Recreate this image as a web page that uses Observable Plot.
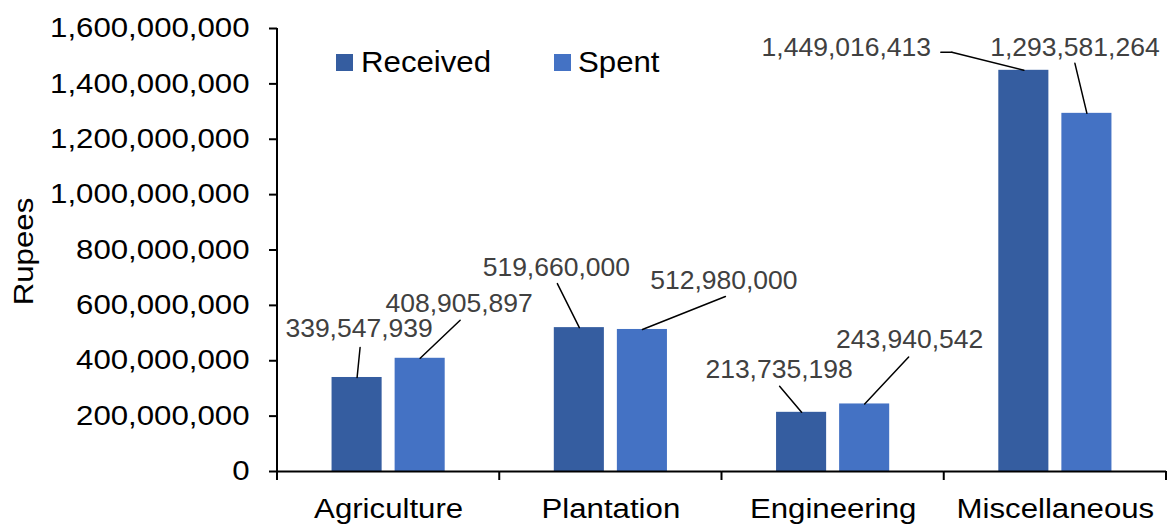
<!DOCTYPE html>
<html><head><meta charset="utf-8">
<script src="https://cdn.jsdelivr.net/npm/d3@7"></script>
<script src="https://cdn.jsdelivr.net/npm/@observablehq/plot@0.6"></script>
<style>
html,body{margin:0;padding:0;background:#fff;}
#chart{position:relative;width:1168px;height:527px;}
svg{font-family:"Liberation Sans",Arial,sans-serif;}
</style></head><body><div id="chart"></div>
<script>
// ---- data ----
const categories = ["Agriculture", "Plantation", "Engineering", "Miscellaneous"];
const series = ["Received", "Spent"];
const received = [339547939, 519660000, 213735198, 1449016413];
const spent = [408905897, 512980000, 243940542, 1293581264];
const yTicks = [0, 200000000, 400000000, 600000000, 800000000, 1000000000, 1200000000, 1400000000, 1600000000];
const yLabel = "Rupees";

// ---- styles ----
const colors = ["#355DA0", "#4472C4"];
// label nudges in pixels relative to each bar top (row order), and leader-line bends
const labelNudges = [
  {dx: 2, dy: -48.5, leader: [[3, -30]]},
  {dx: 39, dy: -55, leader: [[40, -38]]},
  {dx: -23, dy: -60, leader: [[-22, -44]]},
  {dx: 81.5, dy: -49, leader: [[83, -33]]},
  {dx: -22.5, dy: -43, leader: [[-22, -26]]},
  {dx: 45, dy: -64.5, leader: [[44, -47]]},
  {dx: -177.5, dy: -22.5, leader: [[-72, -18], [-83, -18]]},
  {dx: -12, dy: -65.5, leader: [[-12, -50]]}
];
const stretch = 1.155;

const rows = [];
categories.forEach((c, i) => {
  rows.push({category: c, series: series[0], value: received[i]});
  rows.push({category: c, series: series[1], value: spent[i]});
});

const fmt = d3.format(",");
const leaderShape = {draw(ctx, l) { ctx.moveTo(0, 0); ctx.lineTo(0, -l); }};

const labelMarks = rows.flatMap((r, i) => {
  const n = labelNudges[i];
  const marks = [Plot.text([r], {fx: "category", x: "series", y: "value", text: d => fmt(d.value),
    dx: n.dx, dy: n.dy, lineAnchor: "middle", fontSize: 26.5, fill: "#404040"})];
  let px = 0, py = 0;
  for (const [lx, ly] of n.leader) {
    const ddx = lx - px, ddy = ly - py;
    marks.push(Plot.vector([r], {fx: "category", x: "series", y: "value", dx: px, dy: py,
      length: Math.hypot(ddx, ddy), rotate: Math.atan2(ddx, -ddy) * 180 / Math.PI,
      anchor: "start", shape: leaderShape, stroke: "#000", strokeWidth: 1.5}));
    px = lx; py = ly;
  }
  return marks;
});

const chart = Plot.plot({
  width: 1168, height: 527,
  marginLeft: 277, marginRight: 2, marginTop: 28, marginBottom: 56,
  style: {fontFamily: '"Liberation Sans", Arial, sans-serif', background: "#fff", overflow: "visible"},
  fx: {domain: categories, padding: 0, round: false, label: null},
  x: {domain: series, paddingInner: 0.206, paddingOuter: 0.865, round: false, axis: null},
  y: {domain: [0, 1600000000], label: null},
  color: {domain: series, range: colors},
  marks: [
    Plot.barY(rows, {fx: "category", x: "series", y: "value", fill: "series"}),
    Plot.ruleY([0], {stroke: "#000", strokeWidth: 2}),
    Plot.axisY({ticks: yTicks, tickFormat: fmt, tickSize: 8, tickPadding: 20, fontSize: 27,
      fill: "#000", stroke: "#000", strokeWidth: 2, label: null}),
    Plot.axisFx({anchor: "bottom", tickSize: 0, tickPadding: 27, fontSize: 27, fill: "#000", label: null}),
    ...labelMarks
  ]
});

document.getElementById("chart").append(chart);

const svg = d3.select(chart);
const fxS = chart.scale("fx"), yS = chart.scale("y"), cS = chart.scale("color");
const x0 = fxS.apply(categories[0]);
const bounds = categories.map(c => fxS.apply(c));
bounds.push(fxS.apply(categories[categories.length - 1]) + fxS.bandwidth);
const yBase = yS.apply(0);
const g = svg.append("g").attr("stroke", "#000").attr("stroke-width", 2);
g.append("line").attr("x1", x0).attr("x2", x0).attr("y1", yS.apply(yTicks[yTicks.length - 1])).attr("y2", yBase + 1);
bounds.forEach(b => g.append("line").attr("x1", b).attr("x2", b).attr("y1", yBase).attr("y2", yBase + 9));

// y-axis title
const title = svg.append("text").attr("transform", `translate(33,${(yS.apply(0) + yS.apply(1600000000)) / 2 + 2}) rotate(-90)`)
  .attr("text-anchor", "middle").attr("font-size", 27).attr("fill", "#000").text(yLabel);

// legend
const lg = svg.append("g").attr("text-anchor", "start");
[[336, 361], [554, 578]].forEach(([sx, tx], i) => {
  lg.append("rect").attr("x", sx).attr("y", 54).attr("width", 17).attr("height", 17).attr("fill", cS.apply(series[i]));
  lg.append("text").attr("x", tx).attr("y", 72).attr("font-size", 30).attr("fill", "#000").text(series[i]);
});

// horizontal glyph stretch for axis texts
const stretchText = (el, k) => {
  const L = el.getComputedTextLength();
  el.setAttribute("textLength", L * k);
  el.setAttribute("lengthAdjust", "spacingAndGlyphs");
};
svg.selectAll('g[aria-label="y-axis tick label"] text, g[aria-label="fx-axis tick label"] text').each(function() { stretchText(this, stretch); });
stretchText(title.node(), stretch);
lg.selectAll("text").each(function() { stretchText(this, 1.04); });
</script></body></html>
